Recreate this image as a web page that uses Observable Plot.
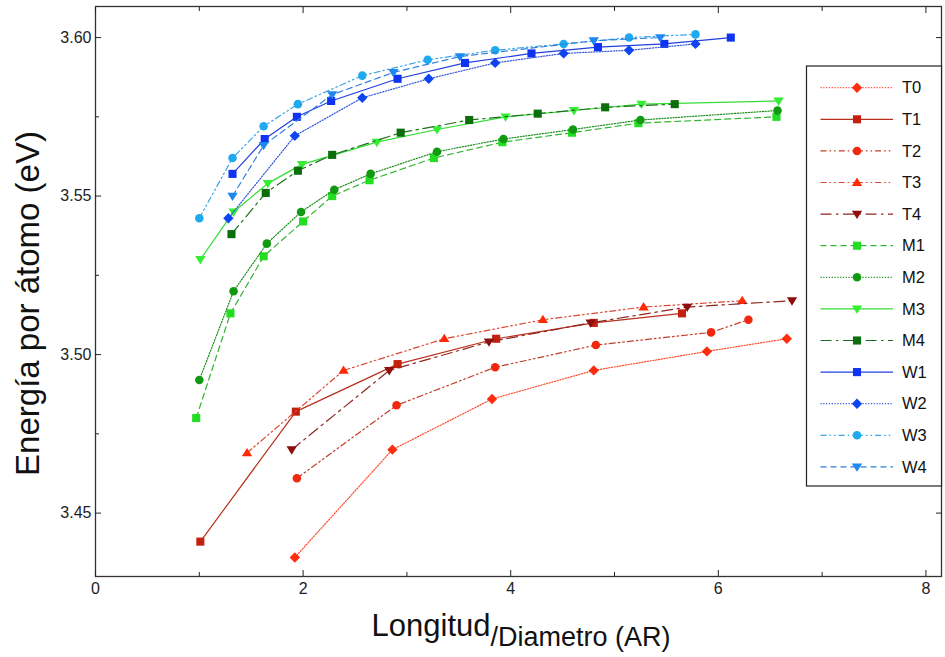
<!DOCTYPE html>
<html>
<head>
<meta charset="utf-8">
<script src="https://cdn.jsdelivr.net/npm/d3@7"></script>
<script src="https://cdn.jsdelivr.net/npm/@observablehq/plot@0.6"></script>
<style>
  body { margin: 0; background: #fff; }
  #wrap { position: relative; width: 945px; height: 657px; }
  #legend { position: absolute; left: 0; top: 0; pointer-events: none; }
</style>
</head>
<body>
<div id="wrap"></div>
<script>
// Aspect ratio (length / diameter) and energy per atom (eV) for each nanowire series
const seriesNames = ["T0", "T1", "T2", "T3", "T4", "M1", "M2", "M3", "M4", "W1", "W2", "W3", "W4"];

const xT0 = [1.92, 2.86, 3.82, 4.80, 5.89, 6.66];
const yT0 = [3.436, 3.470, 3.486, 3.495, 3.501, 3.505];
const xT1 = [1.01, 1.93, 2.91, 3.86, 4.80, 5.65];
const yT1 = [3.441, 3.482, 3.497, 3.505, 3.510, 3.513];
const xT2 = [1.94, 2.90, 3.85, 4.82, 5.93, 6.29];
const yT2 = [3.461, 3.484, 3.496, 3.503, 3.507, 3.511];
const xT3 = [1.46, 2.39, 3.36, 4.31, 5.28, 6.23];
const yT3 = [3.469, 3.495, 3.505, 3.511, 3.515, 3.517];
const xT4 = [1.89, 2.83, 3.79, 4.77, 5.70, 6.71];
const yT4 = [3.470, 3.495, 3.504, 3.510, 3.515, 3.517];

const xM1 = [0.97, 1.30, 1.62, 2.00, 2.28, 2.64, 3.26, 3.92, 4.59, 5.23, 6.56];
const yM1 = [3.480, 3.513, 3.531, 3.542, 3.550, 3.555, 3.562, 3.567, 3.570, 3.573, 3.575];
const xM2 = [1.00, 1.33, 1.65, 1.98, 2.30, 2.65, 3.29, 3.93, 4.60, 5.25, 6.57];
const yM2 = [3.492, 3.520, 3.535, 3.545, 3.552, 3.557, 3.564, 3.568, 3.571, 3.574, 3.577];
const xM3 = [1.01, 1.33, 1.66, 1.99, 2.71, 3.29, 3.95, 4.61, 5.26, 6.58];
const yM3 = [3.530, 3.545, 3.554, 3.560, 3.567, 3.571, 3.575, 3.577, 3.579, 3.580];
const xM4 = [1.31, 1.64, 1.95, 2.28, 2.94, 3.60, 4.26, 4.91, 5.58];
const yM4 = [3.538, 3.551, 3.558, 3.563, 3.570, 3.574, 3.576, 3.578, 3.579];

const xW1 = [1.32, 1.63, 1.94, 2.27, 2.91, 3.56, 4.20, 4.84, 5.48, 6.12];
const yW1 = [3.557, 3.568, 3.575, 3.580, 3.587, 3.592, 3.595, 3.597, 3.598, 3.600];
const xW2 = [1.28, 1.92, 2.57, 3.21, 3.85, 4.51, 5.14, 5.78];
const yW2 = [3.543, 3.569, 3.581, 3.587, 3.592, 3.595, 3.596, 3.598];
const xW3 = [1.00, 1.32, 1.62, 1.95, 2.57, 3.20, 3.85, 4.51, 5.14, 5.78];
const yW3 = [3.543, 3.562, 3.572, 3.579, 3.588, 3.593, 3.596, 3.598, 3.600, 3.601];
const xW4 = [1.32, 1.62, 2.28, 2.87, 3.51, 4.80, 5.44];
const yW4 = [3.550, 3.566, 3.582, 3.589, 3.594, 3.599, 3.600];

const xTicks = [0, 2, 4, 6, 8];
const xMinorTicks = [1, 3, 5, 7];
const yTicks = [3.45, 3.50, 3.55, 3.60];
const yMinorTicks = [3.475, 3.525, 3.575];

// Marker shapes (size is an area, as d3 symbols expect)
const rad = size => Math.sqrt(size / Math.PI);
const symbols = {
  circle:   { draw(c, s) { const r = rad(s) * 0.95; c.moveTo(r, 0); c.arc(0, 0, r, 0, 2 * Math.PI); } },
  square:   { draw(c, s) { const h = rad(s) * 0.9; c.rect(-h, -h, 2 * h, 2 * h); } },
  diamond:  { draw(c, s) { const h = rad(s) * 1.15; c.moveTo(0, -h); c.lineTo(h, 0); c.lineTo(0, h); c.lineTo(-h, 0); c.closePath(); } },
  triUp:    { draw(c, s) { const r = rad(s); c.moveTo(0, -1.1 * r); c.lineTo(1.15 * r, 0.75 * r); c.lineTo(-1.15 * r, 0.75 * r); c.closePath(); } },
  triDown:  { draw(c, s) { const r = rad(s); c.moveTo(0, 1.1 * r); c.lineTo(1.15 * r, -0.75 * r); c.lineTo(-1.15 * r, -0.75 * r); c.closePath(); } }
};

const dashes = {
  solid: null,
  dotted: "1.2,1.6",
  dashed: "6,4",
  dashDotDot: "6,3,1.6,3,1.6,3",
  longDashDot: "11,4.5,2.5,4.5"
};

const styles = {
  T0: { marker: "#ff2d0f", line: "#ff4a2a", symbol: "diamond", dash: "dotted" },
  T1: { marker: "#c4200f", line: "#b8301c", symbol: "square",  dash: "solid" },
  T2: { marker: "#f0280f", line: "#c23e2a", symbol: "circle",  dash: "dashDotDot" },
  T3: { marker: "#ff2a05", line: "#dc4632", symbol: "triUp",   dash: "dashDotDot" },
  T4: { marker: "#8c0e0e", line: "#8e2820", symbol: "triDown", dash: "longDashDot" },
  M1: { marker: "#22dd22", line: "#33b533", symbol: "square",  dash: "dashed" },
  M2: { marker: "#119a11", line: "#1a8f1a", symbol: "circle",  dash: "dotted" },
  M3: { marker: "#33ee33", line: "#33dd33", symbol: "triDown", dash: "solid" },
  M4: { marker: "#0b6e0b", line: "#1e6e1e", symbol: "square",  dash: "longDashDot" },
  W1: { marker: "#0f33f0", line: "#2040e0", symbol: "square",  dash: "solid" },
  W2: { marker: "#0f45ee", line: "#3355dd", symbol: "diamond", dash: "dotted" },
  W3: { marker: "#1faaf0", line: "#3aa6e6", symbol: "circle",  dash: "dashDotDot" },
  W4: { marker: "#1e88f0", line: "#2f7fe0", symbol: "triDown", dash: "dashed" }
};

const seriesX = { T0: xT0, T1: xT1, T2: xT2, T3: xT3, T4: xT4, M1: xM1, M2: xM2, M3: xM3, M4: xM4, W1: xW1, W2: xW2, W3: xW3, W4: xW4 };
const seriesY = { T0: yT0, T1: yT1, T2: yT2, T3: yT3, T4: yT4, M1: yM1, M2: yM2, M3: yM3, M4: yM4, W1: yW1, W2: yW2, W3: yW3, W4: yW4 };

const rows = name => seriesX[name].map((x, i) => ({ series: name, x, y: seriesY[name][i] }));

const sans = "'Liberation Sans', Arial, Helvetica, sans-serif";
const MARKER_R = 4.5;

const seriesMarks = seriesNames.flatMap(name => {
  const s = styles[name];
  const data = rows(name);
  return [
    Plot.line(data, { x: "x", y: "y", stroke: s.line, strokeWidth: 1.2, strokeDasharray: dashes[s.dash] }),
    Plot.dot(data, { x: "x", y: "y", symbol: () => symbols[s.symbol], r: MARKER_R, fill: s.marker, stroke: "none" })
  ];
});

const chart = Plot.plot({
  width: 945,
  height: 657,
  marginLeft: 95,
  marginRight: 4,
  marginTop: 6,
  marginBottom: 81,
  x: { domain: [0, 8.15], axis: null },
  y: { domain: [3.43, 3.6098], axis: null },
  symbol: { type: "identity" },
  style: { background: "#fff", color: "#222", fontFamily: sans },
  marks: [
    ...seriesMarks,
    Plot.frame({ stroke: "#333", strokeWidth: 1.3 }),
    // major and minor ticks point inward on all four sides
    Plot.axisX(xTicks, { anchor: "bottom", tickSize: -6, tickPadding: 12, tickFormat: d => String(d), fontSize: 16, label: null }),
    Plot.axisX(xMinorTicks, { anchor: "bottom", tickSize: -4, tickFormat: () => "", label: null }),
    Plot.axisX(xTicks, { anchor: "top", tickSize: -6, tickFormat: () => "", label: null }),
    Plot.axisX(xMinorTicks, { anchor: "top", tickSize: -4, tickFormat: () => "", label: null }),
    Plot.axisY(yTicks, { anchor: "left", tickSize: -6, tickPadding: 10, tickFormat: d3.format(".2f"), fontSize: 16, label: null }),
    Plot.axisY(yMinorTicks, { anchor: "left", tickSize: -4, tickFormat: () => "", label: null }),
    Plot.axisY(yTicks, { anchor: "right", tickSize: -6, tickFormat: () => "", label: null }),
    Plot.axisY(yMinorTicks, { anchor: "right", tickSize: -4, tickFormat: () => "", label: null }),
    // axis titles
    Plot.text(["Energía por átomo (eV)"], { frameAnchor: "left", textAnchor: "middle", rotate: -90, dx: -67, dy: 12, fontSize: 33, fontFamily: sans, fill: "#111" }),
    Plot.text(["Longitud"], { frameAnchor: "bottom", textAnchor: "end", dx: -28, dy: 59, fontSize: 31, fontFamily: sans, fill: "#111" }),
    Plot.text(["/Diametro (AR)"], { frameAnchor: "bottom", textAnchor: "start", dx: -28, dy: 69, fontSize: 27, fontFamily: sans, fill: "#111" })
  ]
});

const wrap = document.getElementById("wrap");
wrap.appendChild(chart);

// Legend box inside the plotting area
const lg = d3.select(wrap).append("svg")
  .attr("id", "legend").attr("width", 945).attr("height", 657);
const box = { x: 806.5, y: 66, w: 135, h: 420 };
lg.append("rect").attr("x", box.x).attr("y", box.y).attr("width", box.w).attr("height", box.h)
  .attr("fill", "#fff").attr("stroke", "#222").attr("stroke-width", 1.2);
const markerSize = Math.PI * MARKER_R * MARKER_R;
seriesNames.forEach((name, i) => {
  const s = styles[name];
  const cy = 87.7 + i * 31.6;
  const g = lg.append("g");
  g.append("line").attr("x1", 820.5).attr("x2", 893).attr("y1", cy).attr("y2", cy)
    .attr("stroke", s.line).attr("stroke-width", 1.2)
    .attr("stroke-dasharray", dashes[s.dash]);
  g.append("path").attr("transform", `translate(857,${cy})`)
    .attr("d", d3.symbol().type(symbols[s.symbol]).size(markerSize)())
    .attr("fill", s.marker);
  g.append("text").attr("x", 902).attr("y", cy).attr("dy", "0.35em")
    .attr("font-family", sans).attr("font-size", 16.5).attr("fill", "#111").text(name);
});
</script>
</body>
</html>
